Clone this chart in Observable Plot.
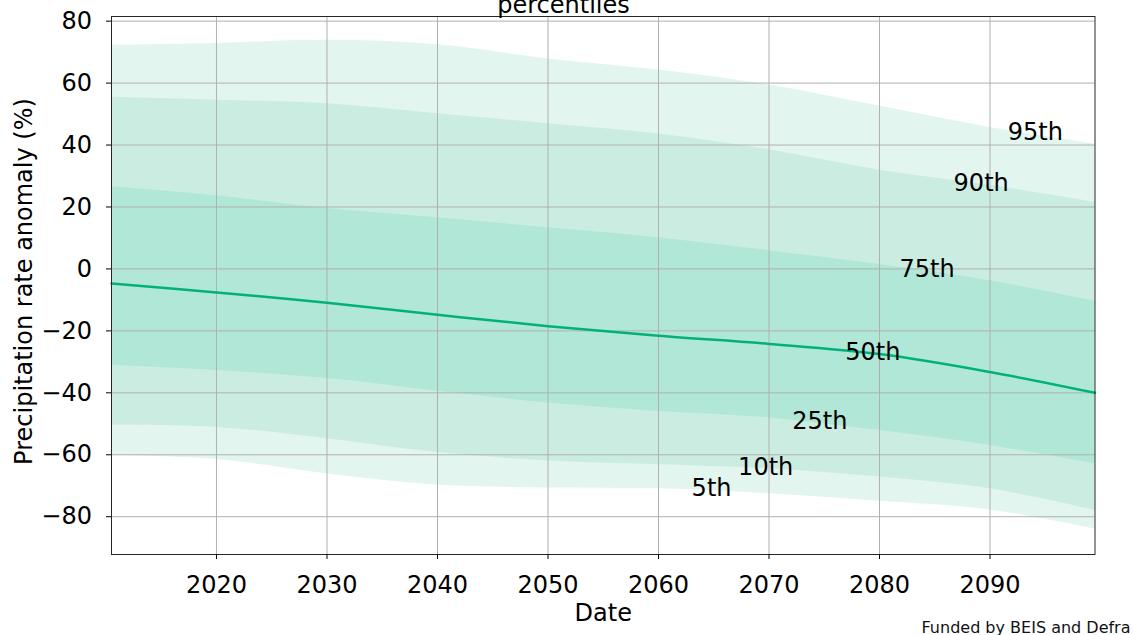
<!DOCTYPE html>
<html><head><meta charset="utf-8">
<script src="https://cdn.jsdelivr.net/npm/d3@7"></script>
<script src="https://cdn.jsdelivr.net/npm/@observablehq/plot@0.6"></script>
<style>body{margin:0;background:#fff;} #chart svg{display:block;}</style>
</head><body><div id="chart"></div>
<script>
const years = [2010.5, 2020, 2030, 2040, 2050, 2060, 2070, 2080, 2090, 2099.5];
const p95 = [72.2, 72.8, 73.8, 72.4, 67.8, 64.2, 59.4, 52.6, 45.7, 40.3];
const p90 = [55.4, 54.5, 53.3, 50.1, 46.9, 43.6, 38.5, 31.9, 27.0, 21.5];
const p75 = [26.5, 23.6, 19.5, 16.5, 13.3, 10.1, 5.9, 1.4, -3.8, -10.5];
const p50 = [-4.7, -7.6, -10.9, -14.8, -18.5, -21.6, -24.2, -27.5, -33.3, -40.0];
const p25 = [-31.2, -32.8, -35.4, -39.5, -43.3, -46.0, -48.1, -52.2, -57.0, -63.0];
const p10 = [-50.5, -51.2, -54.8, -59.3, -62.0, -63.2, -64.5, -67.2, -71.0, -78.0];
const p5  = [-60.2, -61.5, -66.2, -69.8, -70.7, -71.0, -72.6, -75.0, -77.8, -84.0];

const labelNames  = ["95th", "90th", "75th", "50th", "25th", "10th", "5th"];
const labelYears  = [2094.1, 2089.2, 2084.3, 2079.4, 2074.6, 2069.7, 2064.8];
const labelValues = [44.0, 27.5, -0.2, -27.0, -49.1, -64.0, -70.9];

const xTicks = [2020, 2030, 2040, 2050, 2060, 2070, 2080, 2090];
const yTicks = [-80, -60, -40, -20, 0, 20, 40, 60, 80];

const titleText = "percentiles";
const xLabel = "Date";
const yLabel = "Precipitation rate anomaly (%)";
const caption = "Funded by BEIS and Defra";

const data = years.map((year, i) => ({year, p5: p5[i], p10: p10[i], p25: p25[i], p50: p50[i], p75: p75[i], p90: p90[i], p95: p95[i]}));
const labels = labelNames.map((name, i) => ({name, year: labelYears[i], value: labelValues[i]}));

const chart = Plot.plot({
  width: 1134, height: 635,
  marginLeft: 111, marginRight: 39.5, marginTop: 16, marginBottom: 81,
  style: {fontFamily: "DejaVu Sans", fontSize: "24px", color: "#000", background: "#fff", overflow: "visible"},
  x: {domain: [2010.5, 2099.5], label: null},
  y: {domain: [-92.2, 81.5], label: null},
  marks: [
    Plot.areaY(data, {x: "year", y1: "p5", y2: "p95", fill: "#e3f5ef", curve: "catmull-rom"}),
    Plot.areaY(data, {x: "year", y1: "p10", y2: "p90", fill: "#cbede1", curve: "catmull-rom"}),
    Plot.areaY(data, {x: "year", y1: "p25", y2: "p75", fill: "#b1e7d6", curve: "catmull-rom"}),
    Plot.gridX(xTicks, {stroke: "#b0b0b0", strokeOpacity: 1, strokeWidth: 1}),
    Plot.gridY(yTicks, {stroke: "#b0b0b0", strokeOpacity: 1, strokeWidth: 1}),
    Plot.lineY(data, {x: "year", y: "p50", stroke: "#00b27a", strokeWidth: 2.5, curve: "catmull-rom"}),
    Plot.text(labels, {x: "year", y: "value", text: "name", fill: "#000", fontSize: 24}),
    Plot.frame({stroke: "#262626", strokeWidth: 1}),
    Plot.axisX(xTicks, {tickSize: 5, tickPadding: 16, tickFormat: d => String(d), label: null, fontSize: 24}),
    Plot.axisY(yTicks, {tickSize: 5, tickPadding: 14.5, label: null, fontSize: 24}),
    Plot.text([xLabel], {frameAnchor: "bottom", text: d => d, lineAnchor: "bottom", dy: 66, fontSize: 24, fill: "#000"}),
    Plot.text([yLabel], {frameAnchor: "left", text: d => d, rotate: -90, lineAnchor: "bottom", textAnchor: "middle", dx: -79.3, dy: -4, fontSize: 24, fill: "#000"}),
    Plot.text([titleText], {frameAnchor: "top", text: d => d, lineAnchor: "bottom", dx: -39.7, dy: -3.5, fontSize: 24, fill: "#000"}),
    Plot.text([caption], {frameAnchor: "bottom-right", text: d => d, lineAnchor: "bottom", textAnchor: "end", dx: 35.5, dy: 78.7, fontSize: 16, fill: "#111"})
  ]
});
document.getElementById("chart").appendChild(chart);
</script>
</body></html>
